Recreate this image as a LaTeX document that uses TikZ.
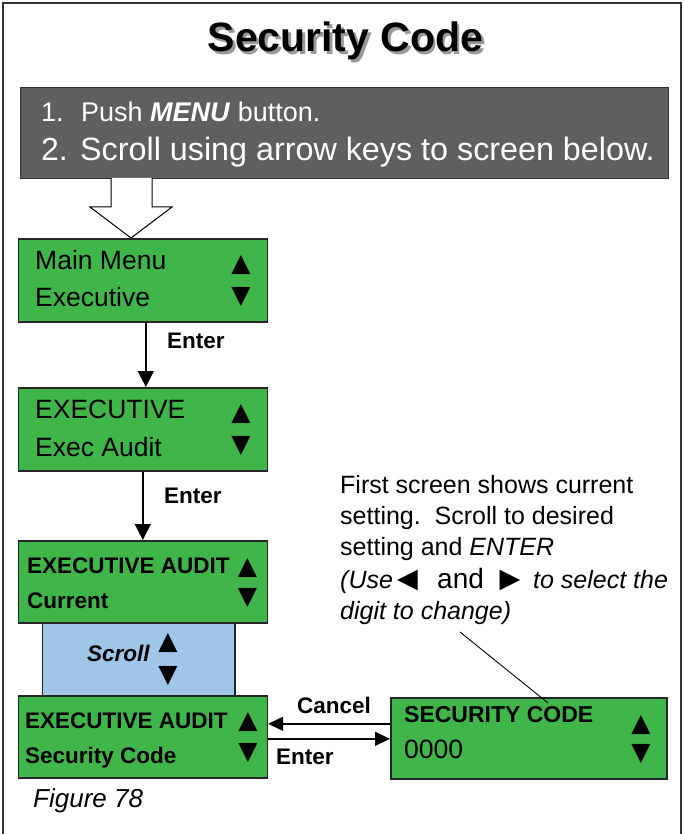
\documentclass[tikz,border=0pt]{standalone}
\usepackage{fontspec}
\setmainfont{Liberation Sans}
\newfontfamily\sym{DejaVu Sans}
\usetikzlibrary{arrows.meta}
\definecolor{lcdgreen}{RGB}{64,181,74}
\definecolor{scrollblue}{RGB}{159,197,232}
\definecolor{panelgray}{RGB}{95,95,95}
\begin{document}
\begin{tikzpicture}[x=1pt,y=-1pt,
  lcd/.style={draw=black!85, line width=1.6pt, fill=lcdgreen, anchor=north west, inner sep=0pt},
  txt/.style={anchor=base west, inner sep=0pt},
  f26/.style={font=\fontsize{26.5}{30}\selectfont},
  fb/.style={font=\fontsize{22.5}{26}\selectfont\bfseries},
  fn/.style={font=\fontsize{25}{28}\selectfont},
  tri/.style={inner sep=0pt, anchor=center, font=\sym\fontsize{25}{25}\selectfont},
  ptr/.style={inner sep=0pt, anchor=center, font=\sym\fontsize{27}{27}\selectfont},
  flow/.style={-{Triangle[length=16pt,width=16pt]}, line width=1.4pt},
  hflow/.style={-{Triangle[length=15pt,width=14pt]}, line width=1.4pt},
]
\useasboundingbox (0,0) rectangle (684,834);
\fill[white] (0,0) rectangle (684,834);
% frame
\draw[line width=1.5pt, black!80] (3,834) -- (3,3) -- (681,3) -- (681,834);

% title with drop shadow
\node[anchor=base, inner sep=0pt, text=black!40, font=\fontsize{41}{44}\selectfont\bfseries] (titleshadow) at (348,54.5) {Security Code};
\node[anchor=base, inner sep=0pt, font=\fontsize{41}{44}\selectfont\bfseries] (title) at (345.5,52) {Security Code};

% instruction panel
\node[fill=panelgray, draw=black!80, line width=1pt, minimum width=648pt, minimum height=91pt, anchor=north west, inner sep=0pt] (panel) at (20,87) {};
\node[txt, text=white, font=\fontsize{27}{30}\selectfont] (p1n) at (41,122) {1.};
\node[txt, text=white, font=\fontsize{27}{30}\selectfont] (p1) at (81,122) {Push \textbf{\textit{MENU}} button.};
\node[txt, text=white, font=\fontsize{32}{36}\selectfont] (p2n) at (41,161) {2.};
\node[txt, text=white, font=\fontsize{32.3}{36}\selectfont] (p2) at (80,161) {Scroll using arrow keys to screen below.};

% hollow arrow
\draw[fill=white, line width=1pt] (111,178) -- (111,207) -- (90,207) -- (131,238) -- (172,207) -- (152,207) -- (152,178);

% scroll box (behind green boxes)
\node[draw=black!85, line width=1.6pt, fill=scrollblue, anchor=north west, inner sep=0pt, minimum width=192.5pt, minimum height=73pt] (scroll) at (41.5,622) {};

% LCD boxes
\node[lcd, minimum width=249pt, minimum height=83pt] (b1) at (17.5,238) {};
\node[lcd, minimum width=249pt, minimum height=83pt] (b2) at (17.5,387) {};
\node[lcd, minimum width=249pt, minimum height=82pt] (b3) at (17.5,540) {};
\node[lcd, minimum width=249pt, minimum height=82pt] (b4) at (17.5,695) {};
\node[lcd, minimum width=276pt, minimum height=81pt] (b5) at (390,697) {};

% box texts
\node[txt, f26] (b1a) at (35,269) {Main Menu};
\node[txt, f26] (b1b) at (35,306) {Executive};
\node[tri] (b1u) at (241,265.5) {▲};
\node[tri] (b1d) at (241,297.5) {▼};

\node[txt, f26] (b2a) at (35,418) {EXECUTIVE};
\node[txt, f26] (b2b) at (35,456) {Exec Audit};
\node[tri] (b2u) at (241,414) {▲};
\node[tri] (b2d) at (241,446) {▼};

\node[txt, fb] (b3a) at (27,573) {EXECUTIVE AUDIT};
\node[txt, fb] (b3b) at (27,608) {Current};
\node[tri] (b3u) at (247.5,568) {▲};
\node[tri] (b3d) at (247.5,598) {▼};

\node[txt, font=\fontsize{22.5}{26}\selectfont\bfseries\itshape] (scrl) at (87,661) {Scroll};
\node[tri] (su) at (168,642.5) {▲};
\node[tri] (sd) at (168,675.5) {▼};

\node[txt, fb] (b4a) at (25,728) {EXECUTIVE AUDIT};
\node[txt, fb] (b4b) at (25,763) {Security Code};
\node[tri] (b4u) at (248,721.5) {▲};
\node[tri] (b4d) at (248,752.5) {▼};

\node[txt, font=\fontsize{23}{26}\selectfont\bfseries] (b5a) at (404,722) {SECURITY CODE};
\node[txt, f26] (b5b) at (404,758) {0000};
\node[tri] (b5u) at (641,724.5) {▲};
\node[tri] (b5d) at (641,753.5) {▼};

% flow arrows
\draw[flow] ([xshift=3pt]b1.south) -- ([xshift=3pt]b2.north);
\node[txt, fb] (e1) at (167,348) {Enter};
\draw[flow] (b2.south) -- (b3.north);
\node[txt, fb] (e2) at (164,503) {Enter};

\draw[hflow] ([yshift=14.5pt]b5.west) -- ([yshift=14.5pt]b5.west -| b4.east);
\node[txt, fb] (cancel) at (297,713) {Cancel};
\draw[hflow] ([yshift=-2pt]b4.east) -- ([yshift=-2pt]b4.east -| b5.west);
\node[txt, fb] (e3) at (276,764) {Enter};

% note
\node[txt, fn] (n1) at (340,493) {First screen shows current};
\node[txt, fn] (n2) at (340,524) {setting.\ \ Scroll to desired};
\node[txt, fn] (n3) at (340,555) {setting and \textit{ENTER}};
\node[txt, fn] (n4a) at (340,588) {\textit{(Use}};
\node[ptr] (n4b) at (407.5,580.5) {◀};
\node[txt, font=\fontsize{28}{30}\selectfont] (n4c) at (437,588) {and};
\node[ptr] (n4d) at (510,580.5) {▶};
\node[txt, fn] (n4e) at (533,588) {\textit{to select the}};
\node[txt, fn] (n5) at (340,619) {\textit{digit to change)}};
\coordinate (ptrA) at (460,632);
\coordinate (ptrB) at (548,703);
\draw[line width=0.9pt] (ptrA) -- (ptrB);

% figure label
\node[txt, font=\fontsize{26}{30}\selectfont\itshape] (fig) at (33,807) {Figure 78};
\end{tikzpicture}
\end{document}
